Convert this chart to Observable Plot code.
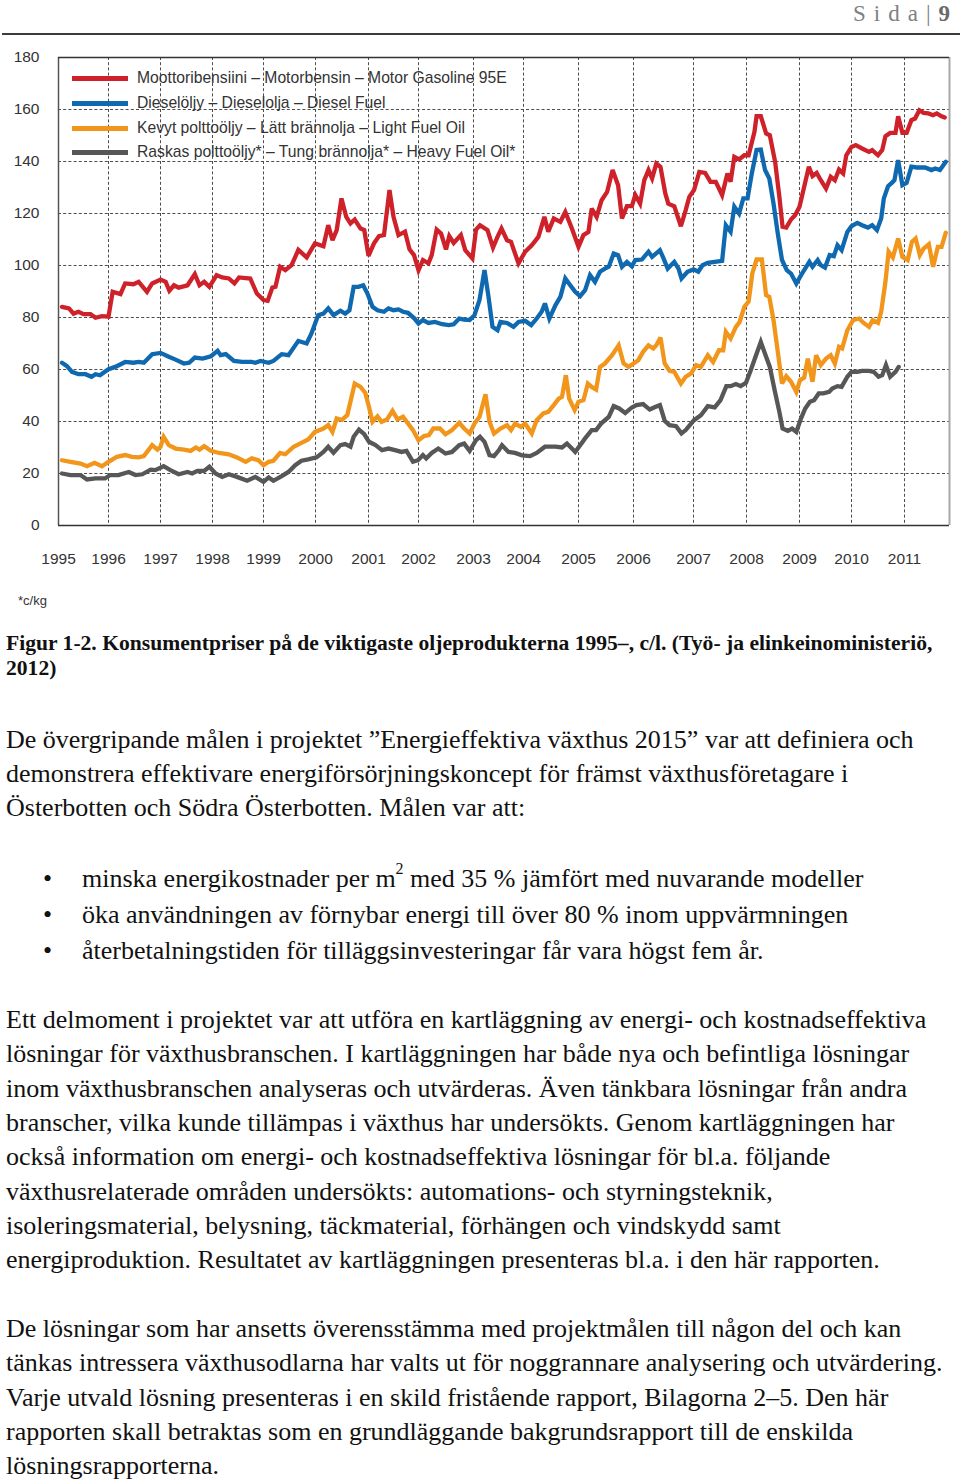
<!DOCTYPE html>
<html><head><meta charset="utf-8">
<script src="https://cdn.jsdelivr.net/npm/d3@7"></script>
<script src="https://cdn.jsdelivr.net/npm/@observablehq/plot@0.6"></script>
<style>
html,body{margin:0;padding:0;background:#fff;overflow:hidden;}
#page{position:relative;width:960px;height:1484px;overflow:hidden;}
#chart{position:absolute;left:0;top:0;}
.hdr{position:absolute;right:10px;top:1px;font:23px/26px "Liberation Serif",serif;color:#808080;letter-spacing:8px;white-space:nowrap;}
.hdr b{color:#6a6a6a;letter-spacing:0;}
.rule{position:absolute;left:2px;right:0;top:33px;height:2px;background:#3c3c3c;}
.sw{position:absolute;left:72px;width:56px;height:5px;}
.lt{position:absolute;left:137px;font:15.7px "Liberation Sans",Arial,sans-serif;color:#333;white-space:nowrap;line-height:18px;}
.unit{position:absolute;left:18px;top:592px;font:13px "Liberation Sans",Arial,sans-serif;color:#333;line-height:18px;}
.cap{position:absolute;left:6px;font:bold 21.6px "Liberation Serif",serif;color:#111;white-space:nowrap;line-height:25px;}
.t{position:absolute;left:6px;font:26px "Liberation Serif",serif;color:#111;white-space:nowrap;line-height:34px;}
.b{left:82px;}
.dot{position:absolute;left:43px;font:26px "Liberation Serif",serif;color:#111;line-height:34px;}
sup{font-size:16px;line-height:0;position:relative;top:-3px;}
</style></head>
<body>
<div id="page">
<div id="chart"></div>
<div class="hdr">Sida|<b>9</b></div>
<div class="rule"></div>
<div id="legend"></div>
<div class="unit">*c/kg</div>

<div class="cap" style="top:631px">Figur 1-2. Konsumentpriser på de viktigaste oljeprodukterna 1995–, c/l. (Työ- ja elinkeinoministeriö,</div>
<div class="cap" style="top:656px">2012)</div>

<div class="t" style="top:723px">De övergripande målen i projektet ”Energieffektiva växthus 2015” var att definiera och</div>
<div class="t" style="top:757px">demonstrera effektivare energiförsörjningskoncept för främst växthusföretagare i</div>
<div class="t" style="top:791px">Österbotten och Södra Österbotten. Målen var att:</div>

<div class="dot" style="top:862px">•</div>
<div class="t b" style="top:862px">minska energikostnader per m<sup>2</sup> med 35 % jämfört med nuvarande modeller</div>
<div class="dot" style="top:898px">•</div>
<div class="t b" style="top:898px">öka användningen av förnybar energi till över 80 % inom uppvärmningen</div>
<div class="dot" style="top:934px">•</div>
<div class="t b" style="top:934px">återbetalningstiden för tilläggsinvesteringar får vara högst fem år.</div>

<div class="t" style="top:1003px">Ett delmoment i projektet var att utföra en kartläggning av energi- och kostnadseffektiva</div>
<div class="t" style="top:1037px">lösningar för växthusbranschen. I kartläggningen har både nya och befintliga lösningar</div>
<div class="t" style="top:1072px">inom växthusbranschen analyseras och utvärderas. Även tänkbara lösningar från andra</div>
<div class="t" style="top:1106px">branscher, vilka kunde tillämpas i växthus har undersökts. Genom kartläggningen har</div>
<div class="t" style="top:1140px">också information om energi- och kostnadseffektiva lösningar för bl.a. följande</div>
<div class="t" style="top:1175px">växthusrelaterade områden undersökts: automations- och styrningsteknik,</div>
<div class="t" style="top:1209px">isoleringsmaterial, belysning, täckmaterial, förhängen och vindskydd samt</div>
<div class="t" style="top:1243px">energiproduktion. Resultatet av kartläggningen presenteras bl.a. i den här rapporten.</div>

<div class="t" style="top:1312px">De lösningar som har ansetts överensstämma med projektmålen till någon del och kan</div>
<div class="t" style="top:1346px">tänkas intressera växthusodlarna har valts ut för noggrannare analysering och utvärdering.</div>
<div class="t" style="top:1381px">Varje utvald lösning presenteras i en skild fristående rapport, Bilagorna 2–5. Den här</div>
<div class="t" style="top:1415px">rapporten skall betraktas som en grundläggande bakgrundsrapport till de enskilda</div>
<div class="t" style="top:1449px">lösningsrapporterna.</div>
</div>

<script>
// ---- data (c/l, heavy fuel oil c/kg), decimal years ----
const yearTicks = [1995,1996,1997,1998,1999,2000,2001,2002,2003,2004,2005,2006,2007,2008,2009,2010,2011];
const valueTicks = [0,20,40,60,80,100,120,140,160,180];
const xEnd = 2011.85;

const seriesNames = [
  "Moottoribensiini – Motorbensin – Motor Gasoline 95E",
  "Dieselöljy – Dieselolja – Diesel Fuel",
  "Kevyt polttoöljy – Lätt brännolja – Light Fuel Oil",
  "Raskas polttoöljy* – Tung brännolja* – Heavy Fuel Oil*"
];
const seriesColors = ["#cf2129", "#0f69b0", "#f1961b", "#575757"];

const motorGasoline = [[1995.07,84.1],[1995.21,83.5],[1995.30,81.5],[1995.40,82.2],[1995.50,81.3],[1995.64,81.3],[1995.74,79.9],[1995.87,80.5],[1996.00,80.3],[1996.08,89.9],[1996.23,89.0],[1996.32,93.1],[1996.48,92.8],[1996.58,93.7],[1996.74,89.9],[1996.84,93.1],[1997.00,94.6],[1997.10,93.7],[1997.17,90.3],[1997.26,92.4],[1997.35,91.5],[1997.52,92.4],[1997.66,96.7],[1997.75,92.4],[1997.84,93.7],[1997.94,91.8],[1998.08,96.3],[1998.19,95.4],[1998.32,95.0],[1998.43,93.1],[1998.52,95.4],[1998.74,95.0],[1998.87,89.2],[1999.00,86.7],[1999.08,86.4],[1999.17,91.5],[1999.23,91.8],[1999.32,99.5],[1999.42,98.2],[1999.54,100.1],[1999.67,106.0],[1999.83,103.1],[1999.99,108.5],[2000.15,107.4],[2000.24,115.5],[2000.32,109.7],[2000.40,113.6],[2000.49,125.8],[2000.58,118.7],[2000.66,116.2],[2000.74,117.7],[2000.85,114.2],[2000.92,113.6],[2001.00,103.7],[2001.11,108.5],[2001.21,111.3],[2001.31,111.7],[2001.42,129.0],[2001.50,118.7],[2001.60,111.7],[2001.73,113.0],[2001.82,106.2],[2001.91,104.0],[2002.00,98.2],[2002.08,102.1],[2002.18,100.8],[2002.24,104.0],[2002.33,113.8],[2002.41,112.3],[2002.50,106.2],[2002.56,111.3],[2002.64,108.7],[2002.77,111.7],[2002.85,105.9],[2002.98,102.7],[2003.05,113.8],[2003.13,115.5],[2003.28,113.6],[2003.39,106.9],[2003.48,111.0],[2003.56,114.2],[2003.67,109.7],[2003.75,109.1],[2003.90,100.8],[2004.03,105.3],[2004.15,107.8],[2004.27,111.0],[2004.38,118.7],[2004.45,113.0],[2004.55,118.1],[2004.67,116.8],[2004.76,120.6],[2004.88,114.2],[2005.00,107.2],[2005.09,111.7],[2005.18,112.9],[2005.24,121.9],[2005.33,118.7],[2005.42,125.1],[2005.52,128.3],[2005.62,136.7],[2005.72,130.9],[2005.79,118.1],[2005.88,122.8],[2005.97,122.8],[2006.03,127.1],[2006.11,123.8],[2006.18,132.8],[2006.25,136.7],[2006.31,133.5],[2006.38,139.2],[2006.45,137.9],[2006.53,127.7],[2006.58,123.8],[2006.68,122.8],[2006.79,115.1],[2006.87,121.3],[2006.93,126.4],[2007.01,129.0],[2007.11,136.0],[2007.22,135.6],[2007.32,132.2],[2007.42,132.2],[2007.54,127.1],[2007.64,135.4],[2007.70,132.2],[2007.77,141.8],[2007.86,140.8],[2007.96,142.4],[2008.04,142.4],[2008.15,151.4],[2008.19,157.4],[2008.27,157.4],[2008.37,150.8],[2008.44,150.1],[2008.54,139.9],[2008.62,126.4],[2008.68,114.9],[2008.75,114.6],[2008.84,117.7],[2008.92,119.4],[2009.00,122.6],[2009.09,130.3],[2009.18,138.0],[2009.25,134.4],[2009.33,135.6],[2009.41,132.8],[2009.51,129.6],[2009.60,134.1],[2009.68,132.8],[2009.76,136.9],[2009.84,135.4],[2009.90,142.4],[2010.00,145.6],[2010.08,146.3],[2010.20,145.0],[2010.33,143.7],[2010.39,144.4],[2010.50,142.4],[2010.58,144.4],[2010.64,149.7],[2010.73,151.0],[2010.83,151.0],[2010.88,157.4],[2010.96,151.0],[2011.04,151.0],[2011.13,155.9],[2011.20,156.5],[2011.28,159.7],[2011.36,158.7],[2011.45,158.5],[2011.54,157.8],[2011.61,158.5],[2011.70,157.4],[2011.76,156.9]];

const dieselFuel = [[1995.07,62.6],[1995.17,61.3],[1995.27,59.1],[1995.40,58.2],[1995.54,58.2],[1995.66,57.2],[1995.74,58.2],[1995.83,57.8],[1996.00,60.1],[1996.13,61.0],[1996.32,62.9],[1996.48,62.6],[1996.58,62.9],[1996.68,62.6],[1996.84,65.9],[1997.00,66.4],[1997.16,64.9],[1997.29,63.8],[1997.45,62.3],[1997.55,62.6],[1997.66,64.6],[1997.81,64.2],[1997.97,65.1],[1998.10,67.2],[1998.16,65.5],[1998.26,65.9],[1998.42,63.3],[1998.58,62.9],[1998.77,62.9],[1998.84,62.6],[1998.94,63.3],[1999.10,62.6],[1999.19,63.3],[1999.35,65.9],[1999.48,65.5],[1999.67,71.0],[1999.83,70.0],[1999.92,73.8],[2000.05,80.9],[2000.15,81.5],[2000.24,83.5],[2000.34,80.9],[2000.47,82.6],[2000.56,81.5],[2000.64,82.8],[2000.72,91.8],[2000.81,91.8],[2000.90,92.4],[2000.98,89.2],[2001.08,84.1],[2001.18,82.8],[2001.31,82.2],[2001.40,83.5],[2001.50,82.8],[2001.60,83.1],[2001.69,82.2],[2001.79,81.8],[2001.92,79.6],[2002.00,77.7],[2002.08,79.0],[2002.18,77.9],[2002.30,78.3],[2002.43,77.4],[2002.55,77.1],[2002.64,77.4],[2002.74,79.6],[2002.83,79.2],[2002.93,79.0],[2003.02,80.9],[2003.12,86.7],[2003.22,98.2],[2003.30,88.0],[2003.38,76.4],[2003.48,75.1],[2003.54,78.3],[2003.67,77.9],[2003.80,76.4],[2003.90,78.3],[2004.03,78.7],[2004.14,77.1],[2004.24,79.6],[2004.33,82.2],[2004.39,85.4],[2004.47,79.6],[2004.58,84.7],[2004.67,87.9],[2004.76,95.0],[2004.85,92.4],[2004.94,89.9],[2005.03,88.2],[2005.12,90.5],[2005.21,96.3],[2005.30,93.7],[2005.39,97.6],[2005.48,98.8],[2005.55,99.5],[2005.64,104.6],[2005.72,104.0],[2005.79,99.5],[2005.88,101.4],[2005.97,99.7],[2006.03,102.1],[2006.14,102.3],[2006.25,105.3],[2006.31,103.3],[2006.44,105.9],[2006.49,103.3],[2006.57,98.8],[2006.68,101.4],[2006.75,98.8],[2006.80,95.0],[2006.90,97.6],[2007.00,98.5],[2007.09,97.6],[2007.17,100.1],[2007.27,101.0],[2007.40,101.4],[2007.54,101.8],[2007.61,115.5],[2007.70,113.0],[2007.77,122.6],[2007.86,120.0],[2007.94,125.8],[2008.02,125.8],[2008.10,135.4],[2008.19,144.4],[2008.27,144.6],[2008.35,136.7],[2008.43,133.5],[2008.51,123.8],[2008.59,112.3],[2008.67,102.1],[2008.76,98.2],[2008.84,96.9],[2008.94,93.1],[2009.03,96.3],[2009.09,98.2],[2009.19,101.4],[2009.25,99.5],[2009.35,102.1],[2009.41,100.1],[2009.49,99.2],[2009.58,104.0],[2009.66,103.6],[2009.73,107.8],[2009.81,105.9],[2009.92,112.9],[2010.00,115.1],[2010.11,116.4],[2010.20,115.5],[2010.31,114.6],[2010.39,115.5],[2010.48,113.6],[2010.56,118.1],[2010.61,125.8],[2010.69,130.5],[2010.76,131.8],[2010.81,132.8],[2010.88,140.5],[2010.96,130.9],[2011.04,131.8],[2011.13,138.0],[2011.23,137.7],[2011.39,137.7],[2011.51,136.7],[2011.58,137.3],[2011.67,136.7],[2011.78,139.9]];

const lightFuelOil = [[1995.07,25.1],[1995.24,24.5],[1995.44,23.8],[1995.57,22.8],[1995.72,24.1],[1995.87,22.8],[1996.00,24.5],[1996.16,26.4],[1996.32,27.1],[1996.45,26.4],[1996.58,26.2],[1996.68,26.7],[1996.84,30.9],[1996.94,29.2],[1997.00,30.3],[1997.06,34.1],[1997.16,30.9],[1997.29,29.6],[1997.45,29.2],[1997.58,28.7],[1997.68,30.0],[1997.75,29.2],[1997.84,30.5],[1997.97,28.7],[1998.13,27.9],[1998.32,27.4],[1998.48,26.2],[1998.65,24.5],[1998.77,25.8],[1998.90,25.1],[1999.00,23.2],[1999.10,24.5],[1999.19,24.9],[1999.32,27.9],[1999.42,27.4],[1999.58,30.3],[1999.70,31.5],[1999.86,33.1],[1999.99,36.0],[2000.15,37.3],[2000.24,38.6],[2000.32,36.0],[2000.40,41.2],[2000.50,40.6],[2000.60,42.5],[2000.74,54.6],[2000.85,53.3],[2000.94,51.0],[2001.01,45.6],[2001.08,39.9],[2001.18,42.0],[2001.26,39.9],[2001.37,40.8],[2001.48,44.1],[2001.58,40.8],[2001.69,41.8],[2001.79,39.2],[2001.89,36.7],[2002.00,32.8],[2002.10,34.4],[2002.19,34.8],[2002.27,37.3],[2002.39,37.3],[2002.49,35.1],[2002.61,36.7],[2002.74,39.5],[2002.83,37.3],[2002.93,35.4],[2003.02,39.2],[2003.12,41.8],[2003.24,50.5],[2003.32,39.9],[2003.41,35.4],[2003.54,37.3],[2003.67,38.6],[2003.75,36.7],[2003.83,39.2],[2003.95,37.9],[2004.03,39.2],[2004.09,37.3],[2004.15,35.4],[2004.24,40.5],[2004.36,43.1],[2004.45,43.7],[2004.55,46.3],[2004.64,48.8],[2004.70,49.5],[2004.77,57.8],[2004.83,48.8],[2004.93,44.4],[2005.00,47.6],[2005.09,48.2],[2005.17,54.6],[2005.24,53.3],[2005.32,52.3],[2005.39,61.0],[2005.48,62.3],[2005.61,65.5],[2005.73,69.3],[2005.82,62.3],[2005.91,61.0],[2006.00,62.3],[2006.08,63.6],[2006.16,66.8],[2006.25,69.3],[2006.33,68.1],[2006.38,69.3],[2006.45,72.3],[2006.52,62.3],[2006.60,59.5],[2006.68,59.1],[2006.79,54.6],[2006.87,57.2],[2006.96,58.5],[2007.05,61.7],[2007.14,61.0],[2007.27,65.5],[2007.37,62.9],[2007.48,67.4],[2007.56,67.4],[2007.61,74.5],[2007.70,71.9],[2007.80,76.4],[2007.87,78.3],[2007.96,84.1],[2008.04,86.1],[2008.11,97.0],[2008.19,102.3],[2008.29,102.3],[2008.37,88.6],[2008.43,87.9],[2008.51,79.0],[2008.59,66.8],[2008.67,54.6],[2008.75,57.4],[2008.84,55.3],[2008.94,51.4],[2009.01,55.9],[2009.09,56.9],[2009.16,64.2],[2009.25,55.3],[2009.32,65.5],[2009.41,61.7],[2009.51,64.2],[2009.60,65.5],[2009.68,62.3],[2009.76,68.7],[2009.82,68.1],[2009.92,75.1],[2010.03,79.0],[2010.14,79.6],[2010.23,77.9],[2010.33,76.4],[2010.40,79.0],[2010.50,77.9],[2010.56,82.2],[2010.64,93.7],[2010.70,105.3],[2010.78,103.1],[2010.88,110.4],[2010.96,103.3],[2011.06,102.1],[2011.14,109.1],[2011.21,110.4],[2011.29,104.0],[2011.36,106.5],[2011.46,108.2],[2011.54,99.5],[2011.63,107.2],[2011.70,107.2],[2011.78,112.6]];

const heavyFuelOil = [[1995.07,20.0],[1995.24,19.4],[1995.44,19.4],[1995.57,17.7],[1995.74,18.1],[1995.93,18.1],[1996.03,19.4],[1996.19,19.4],[1996.39,20.6],[1996.52,19.4],[1996.65,19.7],[1996.81,21.5],[1996.90,21.3],[1997.06,22.8],[1997.19,21.3],[1997.35,19.7],[1997.52,20.6],[1997.61,20.0],[1997.71,21.0],[1997.84,21.0],[1997.94,22.6],[1998.06,20.0],[1998.19,18.7],[1998.32,19.7],[1998.48,18.7],[1998.68,17.2],[1998.84,18.7],[1999.00,16.8],[1999.10,18.5],[1999.19,17.2],[1999.35,19.0],[1999.48,20.6],[1999.61,23.2],[1999.73,24.9],[1999.86,25.4],[2000.02,26.2],[2000.15,28.3],[2000.24,30.3],[2000.34,28.0],[2000.47,30.9],[2000.56,31.3],[2000.66,30.3],[2000.72,34.1],[2000.82,36.9],[2000.92,35.1],[2001.01,32.2],[2001.14,30.9],[2001.27,29.0],[2001.40,29.6],[2001.53,29.0],[2001.66,28.3],[2001.76,28.7],[2001.89,24.5],[2001.99,25.1],[2002.08,27.1],[2002.14,25.8],[2002.24,27.9],[2002.36,29.6],[2002.49,27.7],[2002.61,28.3],[2002.74,30.9],[2002.83,31.5],[2002.93,28.7],[2003.05,32.8],[2003.13,34.1],[2003.22,32.2],[2003.32,27.1],[2003.41,26.7],[2003.51,29.0],[2003.57,30.9],[2003.70,28.3],[2003.83,27.9],[2003.97,27.0],[2004.12,26.7],[2004.24,27.9],[2004.39,30.3],[2004.58,30.3],[2004.70,30.0],[2004.79,31.5],[2004.88,29.6],[2004.94,28.3],[2005.03,30.9],[2005.12,33.5],[2005.24,36.7],[2005.32,36.7],[2005.41,39.2],[2005.55,41.8],[2005.64,45.9],[2005.74,45.0],[2005.85,43.3],[2005.97,45.4],[2006.05,46.3],[2006.16,46.7],[2006.27,44.6],[2006.36,45.6],[2006.44,46.3],[2006.52,40.3],[2006.60,38.6],[2006.71,38.2],[2006.80,35.4],[2006.87,36.7],[2007.01,40.5],[2007.14,42.4],[2007.27,45.9],[2007.40,45.4],[2007.51,48.2],[2007.62,53.6],[2007.70,53.6],[2007.80,54.4],[2007.89,53.6],[2007.99,54.9],[2008.08,59.7],[2008.18,65.5],[2008.27,70.6],[2008.37,64.9],[2008.44,61.0],[2008.53,52.1],[2008.62,43.7],[2008.68,37.3],[2008.78,36.4],[2008.86,37.3],[2008.94,36.0],[2009.03,41.2],[2009.11,45.0],[2009.20,47.6],[2009.28,48.2],[2009.37,50.8],[2009.46,50.8],[2009.57,51.4],[2009.63,52.7],[2009.73,53.6],[2009.81,53.3],[2009.92,57.2],[2010.00,59.1],[2010.11,59.1],[2010.20,59.5],[2010.33,59.5],[2010.42,59.1],[2010.51,57.2],[2010.58,57.8],[2010.65,61.7],[2010.73,57.2],[2010.83,59.1],[2010.89,61.0]];

const seriesData = [motorGasoline, dieselFuel, lightFuelOil, heavyFuelOil];

// ---- layout (pixel positions of the year gridlines in the original, which are uneven) ----
const xPixels = [58,108,160,212,263,315,368,418,473,523,578,633,693,746,799,851,904,949];
const xDomain = [...yearTicks, xEnd];

const gridStroke = {stroke: "#4d4d4d", strokeOpacity: 1, strokeWidth: 1, strokeDasharray: "3,2.2"};

const chart = Plot.plot({
  width: 960,
  height: 575,
  marginTop: 57,
  marginBottom: 50,
  marginLeft: 58,
  marginRight: 11,
  style: {background: "transparent", fontFamily: "'Liberation Sans', Arial, sans-serif", fontSize: "15.5px", color: "#333", overflow: "visible"},
  x: {type: "linear", domain: xDomain, range: xPixels, axis: null},
  y: {type: "linear", domain: [0, 180], axis: null},
  marks: [
    Plot.gridY(valueTicks.filter(v => v > 0 && v < 180), gridStroke),
    Plot.gridX(yearTicks.slice(1), gridStroke),
    ...seriesData.map((s, i) => Plot.line(s, {x: d => d[0], y: d => d[1], stroke: seriesColors[i], strokeWidth: 4.3, strokeLinejoin: "miter", strokeMiterlimit: 3})),
    Plot.ruleX([xEnd], {stroke: "#a8a8a8", strokeWidth: 2}),
    Plot.ruleX([1995], {stroke: "#555", strokeWidth: 1.5}),
    Plot.ruleY([180], {stroke: "#333", strokeWidth: 1.5}),
    Plot.ruleY([0], {stroke: "#333", strokeWidth: 1.5}),
    Plot.axisX(yearTicks, {tickSize: 0, tickPadding: 27, tickFormat: d => String(d), fontSize: 15.5, label: null}),
    Plot.axisY(valueTicks, {tickSize: 0, tickPadding: 19, tickFormat: d => String(d), fontSize: 15.5, label: null})
  ]
});
document.getElementById("chart").appendChild(chart);

// legend inside the plot area
const legendY = [78, 103, 128, 152];
const legend = document.getElementById("legend");
seriesNames.forEach((name, i) => {
  const sw = document.createElement("div");
  sw.className = "sw";
  sw.style.top = (legendY[i] - 2.5) + "px";
  sw.style.background = seriesColors[i];
  legend.appendChild(sw);
  const t = document.createElement("div");
  t.className = "lt";
  t.style.top = (legendY[i] - 9.5) + "px";
  t.textContent = name;
  legend.appendChild(t);
});
</script>
</body></html>
